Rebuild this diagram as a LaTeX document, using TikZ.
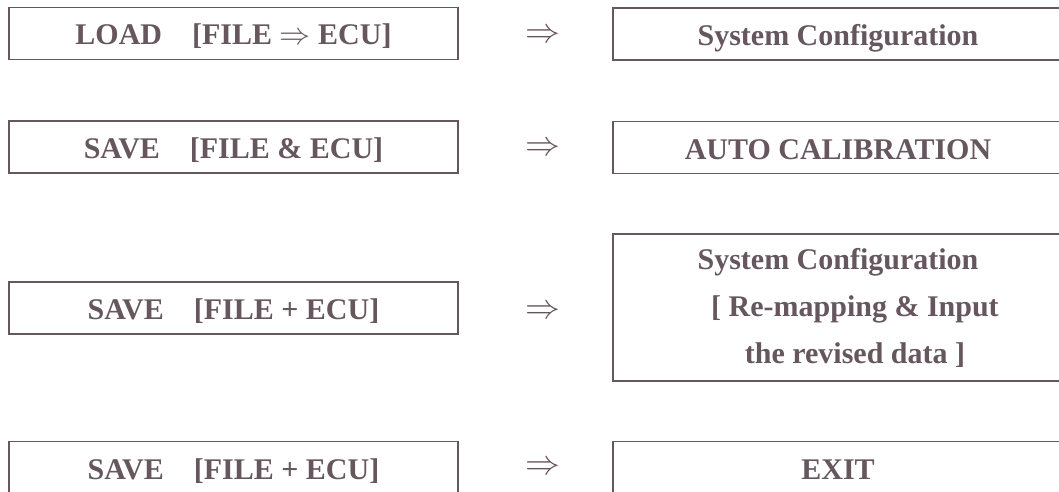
\documentclass[tikz,border=0pt]{standalone}
\usepackage{fontspec}
\setmainfont{Liberation Serif}
\definecolor{ink}{RGB}{102,86,94}
\newcommand{\arrR}{\scalebox{1.25}{$\Rightarrow$}}
\begin{document}
\begin{tikzpicture}[x=1pt,y=1pt,
  box/.style={draw=ink, line width=1.6pt, inner sep=0pt, outer sep=0pt,
    text=ink, font=\fontsize{30}{47}\selectfont\bfseries, align=center},
  oneline/.style={text height=28pt, text depth=5pt},
  lbox/.style={box, oneline, minimum width=449pt, minimum height=52pt},
  rbox/.style={box, minimum width=450pt, minimum height=52pt},
  arr/.style={text=ink, font=\fontsize{30}{34}\selectfont, inner sep=0pt}]
\useasboundingbox (0,0) rectangle (1059,-492);
\clip (0,0) rectangle (1059,-492);
% left column
\node[lbox] (l1) at (233.5,-33.5) {LOAD\quad[FILE \arrR{} ECU]};
\node[lbox] (l2) at (233.5,-147) {SAVE\quad[FILE \& ECU]};
\node[lbox] (l3) at (233.5,-308) {SAVE\quad[FILE + ECU]};
\node[lbox] (l4) at (233.5,-467.5) {SAVE\quad[FILE + ECU]};
% right column
\node[rbox, oneline] (r1) at (838,-34) {System Configuration};
\node[rbox, oneline] (r2) at (838,-147.5) {AUTO CALIBRATION};
\node[rbox, minimum height=147pt] (r3) at (838,-307.5) {System Configuration\\\hspace*{34pt}[ Re-mapping \& Input\\\hspace*{34pt}the revised data ]};
\node[rbox, oneline] (r4) at (838,-467.5) {EXIT};
% arrows
\node[arr] (a1) at (543,-36) {\scalebox{1.4}{$\Rightarrow$}};
\node[arr] (a2) at (543,-149) {\scalebox{1.4}{$\Rightarrow$}};
\node[arr] (a3) at (543,-312) {\scalebox{1.4}{$\Rightarrow$}};
\node[arr] (a4) at (543,-468) {\scalebox{1.4}{$\Rightarrow$}};
\end{tikzpicture}
\end{document}
